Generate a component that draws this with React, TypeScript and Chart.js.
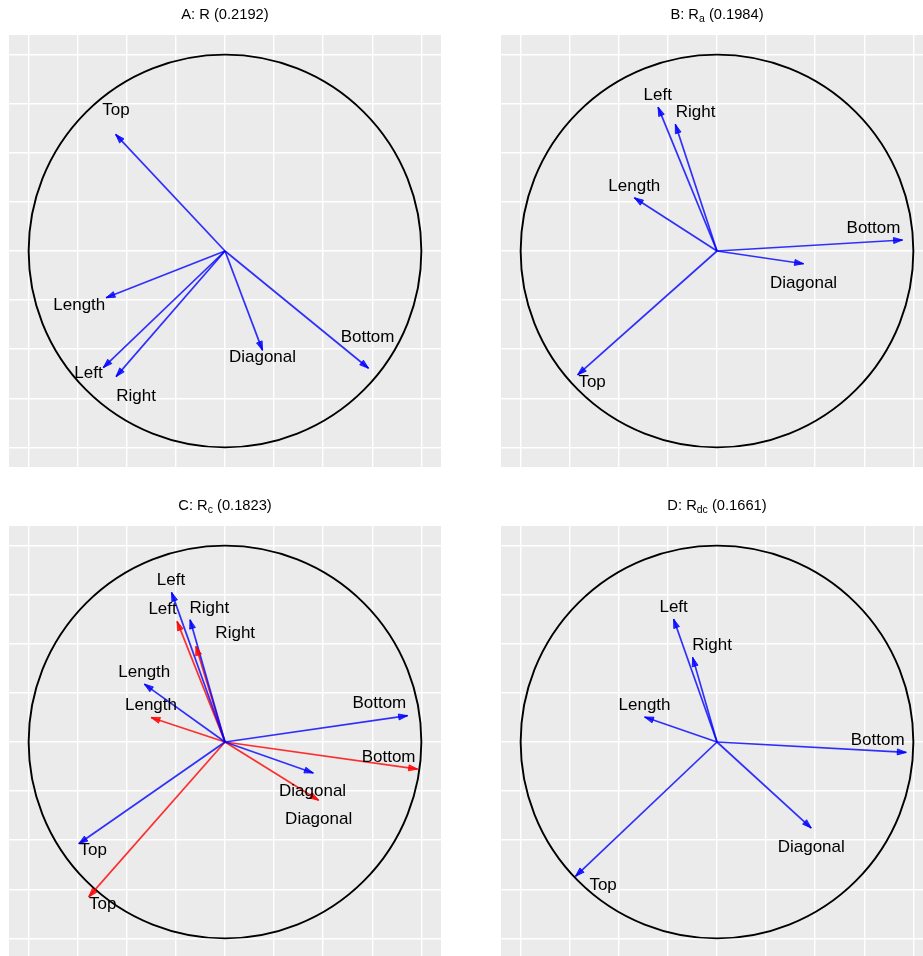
import React, { useEffect, useRef } from "react";
import { Chart, registerables } from "chart.js";

Chart.register(...registerables);

// ---------- data ----------
const VARIABLES = ["Length", "Left", "Right", "Bottom", "Top", "Diagonal"];

const GRID_TICKS = [-1, -0.75, -0.5, -0.25, 0, 0.25, 0.5, 0.75, 1];
const AXIS_MIN = -1.1;
const AXIS_MAX = 1.1;
const CIRCLE_RADIUS = 1;

const TITLE_MAIN = ["A: R", "B: R", "C: R", "D: R"];
const TITLE_SUB = ["", "a", "c", "dc"];
const TITLE_VALUE = ["(0.2192)", "(0.1984)", "(0.1823)", "(0.1661)"];

// Panel A: R
const A_X = [-0.606, -0.62, -0.555, 0.731, -0.557, 0.191];
const A_Y = [-0.238, -0.594, -0.64, -0.597, 0.594, -0.506];
const A_LABEL_X = [-0.742, -0.695, -0.453, 0.726, -0.555, 0.191];
const A_LABEL_Y = [-0.275, -0.624, -0.738, -0.438, 0.716, -0.54];

// Panel B: Ra
const B_X = [-0.421, -0.3, -0.212, 0.945, -0.71, 0.441];
const B_Y = [0.271, 0.733, 0.645, 0.056, -0.631, -0.065];
const B_LABEL_X = [-0.421, -0.302, -0.109, 0.797, -0.636, 0.441];
const B_LABEL_Y = [0.331, 0.794, 0.704, 0.116, -0.667, -0.165];

// Panel C: Rc (blue and red)
const C_BLUE_X = [-0.411, -0.272, -0.178, 0.93, -0.745, 0.45];
const C_BLUE_Y = [0.295, 0.762, 0.623, 0.134, -0.518, -0.158];
const C_BLUE_LABEL_X = [-0.411, -0.275, -0.08, 0.786, -0.671, 0.446];
const C_BLUE_LABEL_Y = [0.356, 0.823, 0.679, 0.195, -0.553, -0.251];

const C_RED_X = [-0.377, -0.244, -0.148, 0.981, -0.694, 0.477];
const C_RED_Y = [0.125, 0.614, 0.487, -0.138, -0.789, -0.297];
const C_RED_LABEL_X = [-0.377, -0.318, 0.052, 0.833, -0.623, 0.477];
const C_RED_LABEL_Y = [0.186, 0.674, 0.551, -0.076, -0.825, -0.392];

// Panel D: Rdc
const D_X = [-0.369, -0.221, -0.124, 0.964, -0.721, 0.48];
const D_Y = [0.127, 0.626, 0.431, -0.053, -0.684, -0.438];
const D_LABEL_X = [-0.369, -0.221, -0.025, 0.818, -0.58, 0.48];
const D_LABEL_Y = [0.186, 0.687, 0.49, 0.008, -0.73, -0.535];

// ---------- styles ----------
const BLUE = "rgba(0,0,255,0.8)";
const RED = "rgba(255,0,0,0.8)";
const PANEL_BG = "#EBEBEB";
const FONT_FAMILY = '"Liberation Sans", Arial, Helvetica, sans-serif';
const PANEL_SIZE = 432;
const TITLE_SPACE = 35;

type Series = { x: number[]; y: number[]; lx: number[]; ly: number[]; color: string };

function buildDatasets(series: Series[]) {
  const ds: any[] = [];
  series.forEach((s) => {
    VARIABLES.forEach((name, i) => {
      ds.push({
        label: name,
        data: [
          { x: 0, y: 0 },
          { x: s.x[i], y: s.y[i] },
        ],
        showLine: true,
        borderColor: s.color,
        backgroundColor: s.color,
        borderWidth: 1.7,
        pointRadius: 0,
        pointHoverRadius: 0,
        labelX: s.lx[i],
        labelY: s.ly[i],
        arrowColor: s.color,
      });
    });
  });
  return ds;
}

const decorPlugin = {
  id: "decor",
  beforeDraw(chart: any) {
    const { ctx, chartArea } = chart;
    ctx.save();
    ctx.fillStyle = "#ffffff";
    ctx.fillRect(0, 0, chart.width, chart.height);
    ctx.fillStyle = PANEL_BG;
    ctx.fillRect(chartArea.left, chartArea.top, chartArea.right - chartArea.left, chartArea.bottom - chartArea.top);
    ctx.restore();
  },
  beforeDatasetsDraw(chart: any) {
    const { ctx } = chart;
    const xs = chart.scales.x;
    const ys = chart.scales.y;
    const cx = xs.getPixelForValue(0);
    const cy = ys.getPixelForValue(0);
    const r = xs.getPixelForValue(CIRCLE_RADIUS) - cx;
    ctx.save();
    ctx.beginPath();
    ctx.arc(cx, cy, r, 0, Math.PI * 2);
    ctx.strokeStyle = "#000";
    ctx.lineWidth = 1.9;
    ctx.stroke();
    ctx.restore();
  },
  afterDatasetsDraw(chart: any) {
    const { ctx } = chart;
    const xs = chart.scales.x;
    const ys = chart.scales.y;
    ctx.save();
    chart.data.datasets.forEach((d: any, i: number) => {
      const meta = chart.getDatasetMeta(i);
      const p0 = meta.data[0];
      const p1 = meta.data[1];
      const ang = Math.atan2(p1.y - p0.y, p1.x - p0.x);
      const L = 9;
      const W = 3;
      const bx = p1.x - L * Math.cos(ang);
      const by = p1.y - L * Math.sin(ang);
      ctx.beginPath();
      ctx.moveTo(p1.x, p1.y);
      ctx.lineTo(bx - W * Math.sin(ang), by + W * Math.cos(ang));
      ctx.lineTo(bx + W * Math.sin(ang), by - W * Math.cos(ang));
      ctx.closePath();
      ctx.fillStyle = d.arrowColor;
      ctx.strokeStyle = d.arrowColor;
      ctx.lineWidth = 1;
      ctx.fill();
      ctx.stroke();
    });
    ctx.font = `17px ${FONT_FAMILY}`;
    ctx.fillStyle = "#000";
    ctx.textAlign = "center";
    ctx.textBaseline = "middle";
    chart.data.datasets.forEach((d: any) => {
      ctx.fillText(d.label, xs.getPixelForValue(d.labelX), ys.getPixelForValue(d.labelY));
    });
    ctx.restore();
  },
  afterDraw(chart: any) {
    const { ctx, chartArea } = chart;
    const t = chart.options.plugins.decor;
    const mainFont = `14.7px ${FONT_FAMILY}`;
    const subFont = `10.5px ${FONT_FAMILY}`;
    ctx.save();
    ctx.fillStyle = "#000";
    ctx.textBaseline = "alphabetic";
    ctx.textAlign = "left";
    ctx.font = mainFont;
    const w1 = ctx.measureText(t.main).width;
    const w3 = ctx.measureText(" " + t.value).width;
    ctx.font = subFont;
    const w2 = t.sub ? ctx.measureText(t.sub).width : 0;
    const total = w1 + w2 + w3;
    const cx = (chartArea.left + chartArea.right) / 2;
    let x = cx - total / 2;
    const baseY = 19;
    ctx.font = mainFont;
    ctx.fillText(t.main, x, baseY);
    x += w1;
    if (t.sub) {
      ctx.font = subFont;
      ctx.fillText(t.sub, x, baseY + 3);
      x += w2;
    }
    ctx.font = mainFont;
    ctx.fillText(" " + t.value, x, baseY);
    ctx.restore();
  },
};

function Panel(props: { left: number; top: number; idx: number; series: Series[] }) {
  const ref = useRef<HTMLCanvasElement>(null);
  useEffect(() => {
    const canvas = ref.current!;
    const scaleOpts = (): any => ({
      type: "linear",
      min: AXIS_MIN,
      max: AXIS_MAX,
      afterBuildTicks: (s: any) => {
        s.ticks = GRID_TICKS.map((v) => ({ value: v }));
      },
      ticks: { display: false },
      grid: { color: "#ffffff", lineWidth: 1.4, drawTicks: false },
      border: { display: false },
      title: { display: false },
    });
    const chart = new Chart(canvas, {
      type: "scatter",
      data: { datasets: buildDatasets(props.series) },
      options: {
        animation: false,
        responsive: false,
        maintainAspectRatio: false,
        devicePixelRatio: 1,
        events: [],
        layout: { padding: { top: TITLE_SPACE, left: 0, right: 0, bottom: 0 } },
        plugins: {
          legend: { display: false },
          tooltip: { enabled: false },
          title: { display: false },
          decor: {
            main: TITLE_MAIN[props.idx],
            sub: TITLE_SUB[props.idx],
            value: TITLE_VALUE[props.idx],
          },
        } as any,
        scales: { x: scaleOpts(), y: scaleOpts() },
      },
      plugins: [decorPlugin as any],
    });
    return () => chart.destroy();
  }, []);
  return (
    <canvas
      ref={ref}
      width={PANEL_SIZE}
      height={PANEL_SIZE + TITLE_SPACE}
      style={{ position: "absolute", left: props.left, top: props.top, display: "block" }}
    />
  );
}

export default function App() {
  return (
    <div
      style={{
        position: "fixed",
        left: 0,
        top: 0,
        width: 923,
        height: 956,
        overflow: "hidden",
        background: "#ffffff",
      }}
    >
      <Panel left={9} top={0} idx={0} series={[{ x: A_X, y: A_Y, lx: A_LABEL_X, ly: A_LABEL_Y, color: BLUE }]} />
      <Panel left={501} top={0} idx={1} series={[{ x: B_X, y: B_Y, lx: B_LABEL_X, ly: B_LABEL_Y, color: BLUE }]} />
      <Panel
        left={9}
        top={491}
        idx={2}
        series={[
          { x: C_BLUE_X, y: C_BLUE_Y, lx: C_BLUE_LABEL_X, ly: C_BLUE_LABEL_Y, color: BLUE },
          { x: C_RED_X, y: C_RED_Y, lx: C_RED_LABEL_X, ly: C_RED_LABEL_Y, color: RED },
        ]}
      />
      <Panel left={501} top={491} idx={3} series={[{ x: D_X, y: D_Y, lx: D_LABEL_X, ly: D_LABEL_Y, color: BLUE }]} />
    </div>
  );
}
